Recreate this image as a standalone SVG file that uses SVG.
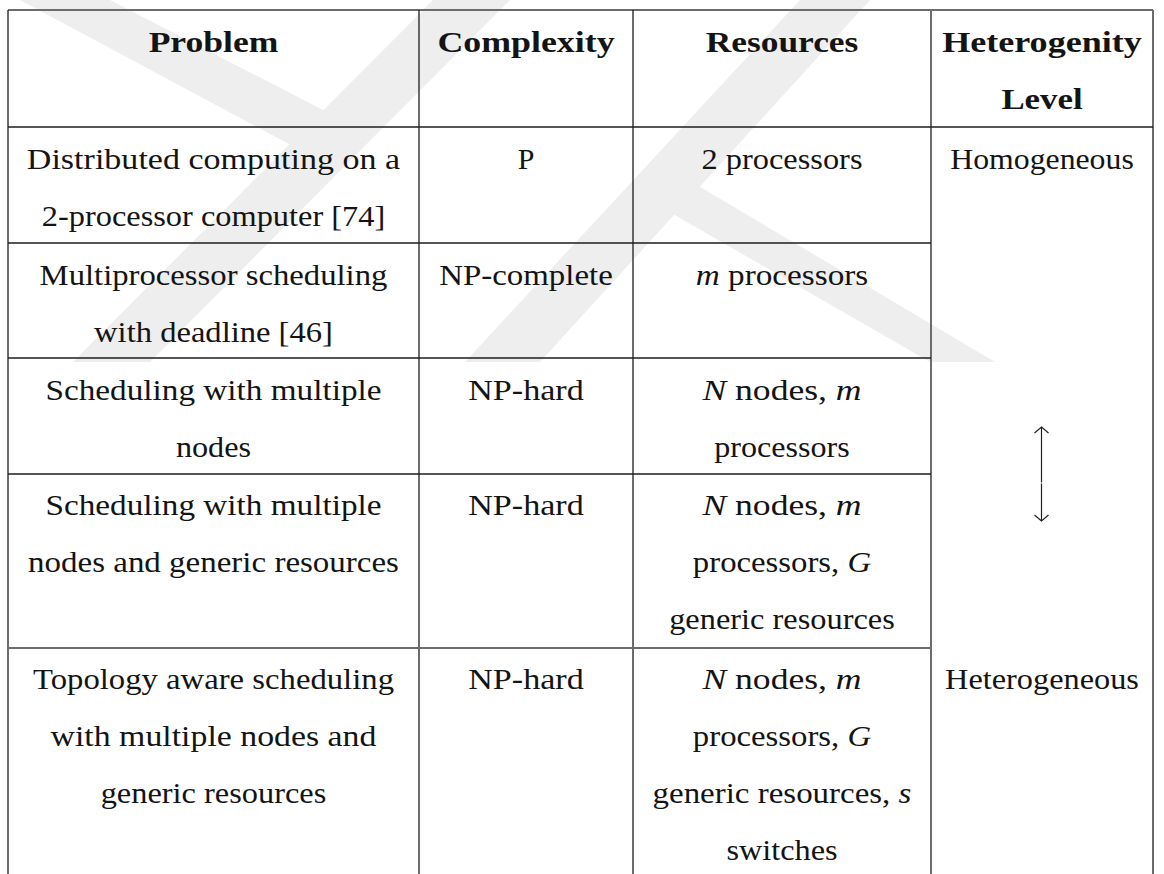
<svg xmlns="http://www.w3.org/2000/svg" width="1164" height="874" viewBox="0 0 1164 874">
  <style>
    text { font-family: "Liberation Serif", "Times New Roman", serif; font-size: 30px; fill: #141414; text-anchor: middle; }
    .hd { font-weight: bold; }
    .mi { font-style: italic; }
    .rule { stroke: #1c1c1c; stroke-width: 1.3; fill: none; }
    .rule-soft { stroke: #6c6c6c; stroke-width: 2; fill: none; }
    .wm { fill: #eeeeee; }
    .arrow { stroke: #222; stroke-width: 1.2; fill: none; }
  </style>
  <rect width="1164" height="874" fill="#ffffff"/>

  <!-- background watermark bands -->
  <g id="watermark">
    <polygon class="wm" points="20,0 110,0 323,110 343,150 300,150"/>
    <polygon class="wm" points="433,0 510,0 150,362 73,362"/>
    <polygon class="wm" points="800,0 870,0 540,362 465,362"/>
    <polygon class="wm" points="640,195 680,175 995,362 930,362"/>
  </g>

  <!-- table rules -->
  <g id="rules">
    <line class="rule-soft" x1="8" y1="10" x2="1153" y2="10"/>
    <line class="rule" x1="8" y1="10" x2="8" y2="874"/>
    <line class="rule" x1="419" y1="10" x2="419" y2="874"/>
    <line class="rule" x1="633" y1="10" x2="633" y2="874"/>
    <line class="rule-soft" x1="931" y1="10" x2="931" y2="874"/>
    <line class="rule-soft" x1="1153" y1="10" x2="1153" y2="874"/>
    <line class="rule" x1="8" y1="127" x2="1153" y2="127"/>
    <line class="rule" x1="8" y1="243" x2="931" y2="243"/>
    <line class="rule" x1="8" y1="358" x2="931" y2="358"/>
    <line class="rule" x1="8" y1="474" x2="931" y2="474"/>
    <line class="rule-soft" x1="8" y1="648" x2="931" y2="648"/>
  </g>

  <!-- header row -->
  <g id="header">
    <text class="hd" x="213.5" y="51.5" textLength="129.7" lengthAdjust="spacingAndGlyphs">Problem</text>
    <text class="hd" x="526" y="51.5" textLength="177.2" lengthAdjust="spacingAndGlyphs">Complexity</text>
    <text class="hd" x="782" y="51.5" textLength="152.7" lengthAdjust="spacingAndGlyphs">Resources</text>
    <text class="hd" x="1042" y="51.5" textLength="199.6" lengthAdjust="spacingAndGlyphs">Heterogenity</text>
    <text class="hd" x="1042" y="109" textLength="81.2" lengthAdjust="spacingAndGlyphs">Level</text>
  </g>

  <!-- row 1 -->
  <g id="row-1">
    <text x="213.5" y="168.5" textLength="373.3" lengthAdjust="spacingAndGlyphs">Distributed computing on a</text>
    <text x="213.5" y="226" textLength="343.4" lengthAdjust="spacingAndGlyphs">2-processor computer [74]</text>
    <text x="526" y="168.5">P</text>
    <text x="782" y="168.5" textLength="161" lengthAdjust="spacingAndGlyphs">2 processors</text>
  </g>

  <!-- row 2 -->
  <g id="row-2">
    <text x="213.5" y="284.5" textLength="347.8" lengthAdjust="spacingAndGlyphs">Multiprocessor scheduling</text>
    <text x="213.5" y="342" textLength="238.8" lengthAdjust="spacingAndGlyphs">with deadline [46]</text>
    <text x="526" y="284.5" textLength="173.5" lengthAdjust="spacingAndGlyphs">NP-complete</text>
    <text x="782" y="284.5" textLength="172.6" lengthAdjust="spacingAndGlyphs"><tspan class="mi">m</tspan> processors</text>
  </g>

  <!-- row 3 -->
  <g id="row-3">
    <text x="213.5" y="399.5" textLength="336" lengthAdjust="spacingAndGlyphs">Scheduling with multiple</text>
    <text x="213.5" y="457" textLength="75.2" lengthAdjust="spacingAndGlyphs">nodes</text>
    <text x="526" y="399.5" textLength="115.6" lengthAdjust="spacingAndGlyphs">NP-hard</text>
    <text x="782" y="399.5" textLength="159.2" lengthAdjust="spacingAndGlyphs"><tspan class="mi">N</tspan> nodes, <tspan class="mi">m</tspan></text>
    <text x="782" y="457" textLength="135.4" lengthAdjust="spacingAndGlyphs">processors</text>
  </g>

  <!-- row 4 -->
  <g id="row-4">
    <text x="213.5" y="515" textLength="336" lengthAdjust="spacingAndGlyphs">Scheduling with multiple</text>
    <text x="213.5" y="572" textLength="370.9" lengthAdjust="spacingAndGlyphs">nodes and generic resources</text>
    <text x="526" y="515" textLength="115.6" lengthAdjust="spacingAndGlyphs">NP-hard</text>
    <text x="782" y="515" textLength="159.2" lengthAdjust="spacingAndGlyphs"><tspan class="mi">N</tspan> nodes, <tspan class="mi">m</tspan></text>
    <text x="782" y="572" textLength="178.3" lengthAdjust="spacingAndGlyphs">processors, <tspan class="mi">G</tspan></text>
    <text x="782" y="629" textLength="225.7" lengthAdjust="spacingAndGlyphs">generic resources</text>
  </g>

  <!-- row 5 -->
  <g id="row-5">
    <text x="213.5" y="688.5" textLength="361" lengthAdjust="spacingAndGlyphs">Topology aware scheduling</text>
    <text x="213.5" y="745.5" textLength="325.9" lengthAdjust="spacingAndGlyphs">with multiple nodes and</text>
    <text x="213.5" y="802.5" textLength="225.7" lengthAdjust="spacingAndGlyphs">generic resources</text>
    <text x="526" y="688.5" textLength="115.6" lengthAdjust="spacingAndGlyphs">NP-hard</text>
    <text x="782" y="688.5" textLength="159.2" lengthAdjust="spacingAndGlyphs"><tspan class="mi">N</tspan> nodes, <tspan class="mi">m</tspan></text>
    <text x="782" y="745.5" textLength="178.3" lengthAdjust="spacingAndGlyphs">processors, <tspan class="mi">G</tspan></text>
    <text x="782" y="802.5" textLength="258.9" lengthAdjust="spacingAndGlyphs">generic resources, <tspan class="mi">s</tspan></text>
    <text x="782" y="859.5" textLength="111.2" lengthAdjust="spacingAndGlyphs">switches</text>
  </g>

  <!-- heterogeneity column -->
  <g id="level-column">
    <text x="1042" y="168.5" textLength="183.5" lengthAdjust="spacingAndGlyphs">Homogeneous</text>
    <text x="1042" y="688.5" textLength="193.8" lengthAdjust="spacingAndGlyphs">Heterogeneous</text>
  </g>

  <!-- two-headed scale arrow -->
  <g id="connectors">
    <path class="arrow" d="M1041.5,427 V482.5 M1041.5,483.5 V521"/>
    <path class="arrow" d="M1034.5,433 L1041.5,427 L1048.5,433"/>
    <path class="arrow" d="M1034.5,515 L1041.5,521 L1048.5,515"/>
  </g>
</svg>
